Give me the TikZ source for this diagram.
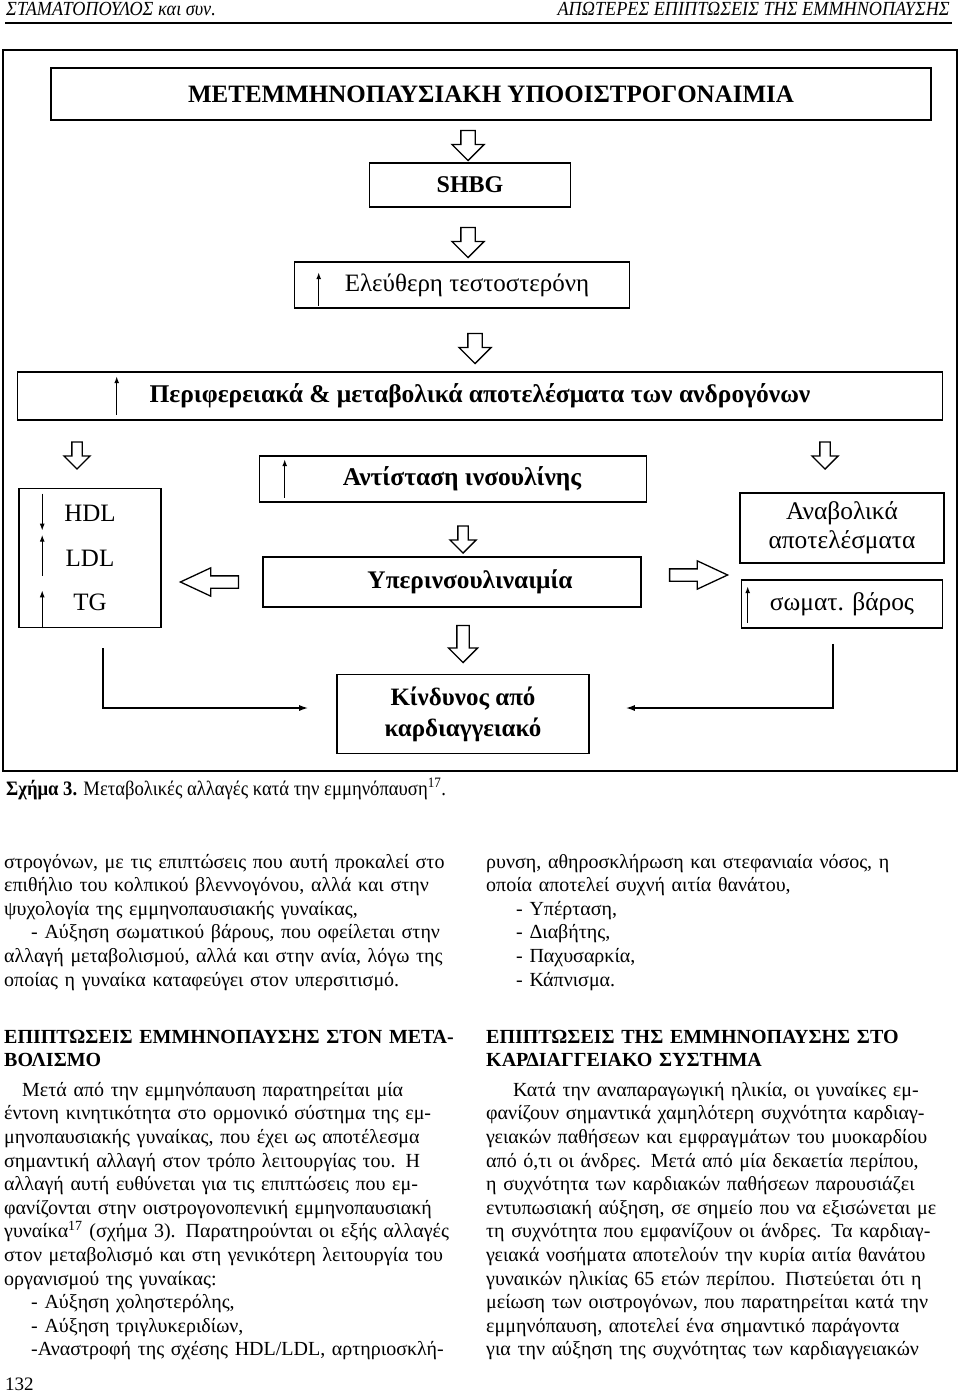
\documentclass[tikz,border=0pt]{standalone}
\usepackage{fontspec}
\setmainfont{Liberation Serif}
\newfontfamily\narrowserif[FakeStretch=0.91]{Liberation Serif}
\usetikzlibrary{arrows.meta,shapes.arrows}
\newcommand{\fullline}[1]{\leavevmode\hbox to\hsize{#1}}

\begin{document}
\begin{tikzpicture}[x=1pt,y=-1pt]
	\tikzstyle{box}=[draw,line width=1.6pt,inner sep=0pt,align=center]
	\tikzstyle{hollow}=[single arrow,draw,line width=1.3pt,fill=white,inner xsep=0pt]
	\tikzstyle{bigdown}=[hollow,rotate=-90,inner ysep=6.5pt,single arrow head extend=9pt,minimum height=30pt]
	\tikzstyle{smalldown}=[hollow,rotate=-90,inner ysep=4.5pt,single arrow head extend=8pt,minimum height=27pt]
	\tikzstyle{longdown}=[hollow,rotate=-90,inner ysep=5.5pt,single arrow head extend=8.5pt,minimum height=37pt]
	\tikzstyle{side}=[hollow,inner ysep=5.5pt,single arrow head extend=8pt,single arrow tip angle=50,minimum height=58pt]
	\tikzstyle{trend}=[line width=1.3pt,-{Latex[length=7pt,width=5pt]}]
	\tikzstyle{link}=[line width=1.5pt,-{Latex[length=9pt,width=6pt]}]
	\tikzstyle{bodytext}=[inner sep=0pt,anchor=base west,text width=466pt,align=left,font=\fontsize{20}{23.6}\selectfont]
	\useasboundingbox (0,0) rectangle (960,1399);

	% running head
	\node[anchor=base west,inner sep=0pt,font=\narrowserif\itshape\fontsize{20}{20}\selectfont] (authors) at (6,15.5) {ΣΤΑΜΑΤΟΠΟΥΛΟΣ και συν.};
	\node[anchor=base east,inner sep=0pt,font=\narrowserif\itshape\fontsize{20}{20}\selectfont] (runhead) at (950,15.5) {ΑΠΩΤΕΡΕΣ ΕΠΙΠΤΩΣΕΙΣ ΤΗΣ ΕΜΜΗΝΟΠΑΥΣΗΣ};
	\draw[line width=1.3pt] (5,23) -- (952,23);

	% figure
	\draw[line width=2.2pt] (3,50) rectangle (957,771);
	\node[box,minimum width=880,minimum height=52,font=\bfseries\fontsize{25}{25}\selectfont] (title) at (491,94) {ΜΕΤΕΜΜΗΝΟΠΑΥΣΙΑΚΗ ΥΠΟΟΙΣΤΡΟΓΟΝΑΙΜΙΑ};
	\node[bigdown] (a1) at (468,142) {};
	\node[box,minimum width=201,minimum height=44,font=\bfseries\fontsize{24}{24}\selectfont] (shbg) at (470,185) {SHBG};
	\node[bigdown] (a2) at (468,239) {};
	\node[box,minimum width=335,minimum height=46,font=\fontsize{25}{25}\selectfont] (free) at (462,285) {\hspace*{10pt}Ελεύθερη τεστοστερόνη};
	\draw[trend] ([shift={(25,-3)}]free.south west) -- ([shift={(25,11)}]free.north west);
	\node[bigdown] (a3) at (475,345) {};
	\node[box,minimum width=925,minimum height=48,font=\bfseries\fontsize{25.5}{25.5}\selectfont] (periph) at (480,396) {Περιφερειακά \& μεταβολικά αποτελέσματα των ανδρογόνων};
	\draw[trend] ([shift={(100,-6)}]periph.south west) -- ([shift={(100,5)}]periph.north west);
	\node[smalldown] (a4) at (77,453) {};
	\node[smalldown] (a5) at (825,453) {};

	\node[box,minimum width=142,minimum height=139,font=\fontsize{25}{44.5}\selectfont] (lipid) at (90,558) {HDL\\LDL\\TG};
	\draw[trend] ([shift={(24,6)}]lipid.north west) -- ++(0,37);
	\draw[trend] ([shift={(24,88)}]lipid.north west) -- ++(0,-41);
	\draw[trend] ([shift={(24,0)}]lipid.south west) -- ++(0,-38);

	\node[box,minimum width=387,minimum height=46,font=\bfseries\fontsize{25.5}{25.5}\selectfont] (insulin) at (453,479) {\hspace*{18pt}Αντίσταση ινσουλίνης};
	\draw[trend] ([shift={(26,-5)}]insulin.south west) -- ([shift={(26,4)}]insulin.north west);
	\node[smalldown] (a6) at (463,537) {};
	\node[box,minimum width=378,minimum height=50,font=\bfseries\fontsize{25.3}{25.3}\selectfont] (hyper) at (452,582) {\hspace*{36pt}Υπερινσουλιναιμία};
	\node[side,rotate=180] (a7) at (216,582) {};
	\node[side] (a8) at (692,575) {};

	\node[box,minimum width=204,minimum height=70,font=\fontsize{25.4}{29}\selectfont] (anab) at (842,528) {Αναβολικά\\αποτελέσματα};
	\node[box,minimum width=201,minimum height=48,font=\fontsize{25.4}{25.4}\selectfont] (weight) at (842,604) {σωματ. βάρος};
	\draw[trend] ([shift={(7,-6)}]weight.south west) -- ([shift={(7,7)}]weight.north west);

	\node[longdown] (a9) at (463,641) {};
	\node[box,minimum width=252,minimum height=79,font=\bfseries\fontsize{25}{31}\selectfont] (risk) at (463,714) {Κίνδυνος από\\καρδιαγγειακό};
	\coordinate (lfoot) at ([shift={(13,20)}]lipid.south);
	\coordinate (rfoot) at ([shift={(-9,15)}]weight.south);
	\draw[link] (lfoot) |- ([shift={(-28,-6)}]risk.west);
	\draw[link] (rfoot) |- ([shift={(36,-6)}]risk.east);

	\node[anchor=base west,inner sep=0pt,font=\narrowserif\fontsize{20.5}{20.5}\selectfont] (caption) at (6,795) {\textbf{Σχήμα 3.} Μεταβολικές αλλαγές κατά την εμμηνόπαυση\textsuperscript{17}.};

	% text columns
	\node[bodytext] (left1) at (4,868) {%
		\fullline{στρογόνων, με τις επιπτώσεις που αυτή προκαλεί στο}\\
		\fullline{επιθήλιο του κολπικού βλεννογόνου, αλλά και στην}\\
		ψυχολογία της εμμηνοπαυσιακής γυναίκας,\\
		\fullline{\hspace*{27pt}- Αύξηση σωματικού βάρους, που οφείλεται στην}\\
		\fullline{αλλαγή μεταβολισμού, αλλά και στην ανία, λόγω της}\\
		οποίας η γυναίκα καταφεύγει στον υπερσιτισμό.};
	\node[bodytext] (left2) at (4,1043) {%
		{\bfseries\fullline{ΕΠΙΠΤΩΣΕΙΣ ΕΜΜΗΝΟΠΑΥΣΗΣ ΣΤΟΝ ΜΕΤΑ-}\\
		ΒΟΛΙΣΜΟ}\\[6pt]
		\fullline{\hspace*{18pt}Μετά από την εμμηνόπαυση παρατηρείται μία}\\
		\fullline{έντονη κινητικότητα στο ορμονικό σύστημα της εμ-}\\
		\fullline{μηνοπαυσιακής γυναίκας, που έχει ως αποτέλεσμα}\\
		\fullline{σημαντική αλλαγή στον τρόπο λειτουργίας του. Η}\\
		\fullline{αλλαγή αυτή ευθύνεται για τις επιπτώσεις που εμ-}\\
		\fullline{φανίζονται στην οιστρογονοπενική εμμηνοπαυσιακή}\\
		\fullline{γυναίκα\textsuperscript{17} (σχήμα 3). Παρατηρούνται οι εξής αλλαγές}\\
		\fullline{στον μεταβολισμό και στη γενικότερη λειτουργία του}\\
		οργανισμού της γυναίκας:\\
		\hspace*{27pt}- Αύξηση χοληστερόλης,\\
		\hspace*{27pt}- Αύξηση τριγλυκεριδίων,\\
		\fullline{\hspace*{27pt}-Αναστροφή της σχέσης HDL/LDL, αρτηριοσκλή-}};
	\node[bodytext,text width=470pt] (right1) at (486,868) {%
		\fullline{ρυνση, αθηροσκλήρωση και στεφανιαία νόσος, η}\\
		οποία αποτελεί συχνή αιτία θανάτου,\\
		\hspace*{30pt}- Υπέρταση,\\
		\hspace*{30pt}- Διαβήτης,\\
		\hspace*{30pt}- Παχυσαρκία,\\
		\hspace*{30pt}- Κάπνισμα.};
	\node[bodytext,text width=470pt] (right2) at (486,1043) {%
		{\bfseries\fullline{ΕΠΙΠΤΩΣΕΙΣ ΤΗΣ ΕΜΜΗΝΟΠΑΥΣΗΣ ΣΤΟ}\\
		ΚΑΡΔΙΑΓΓΕΙΑΚΟ ΣΥΣΤΗΜΑ}\\[6pt]
		\fullline{\hspace*{27pt}Κατά την αναπαραγωγική ηλικία, οι γυναίκες εμ-}\\
		\fullline{φανίζουν σημαντικά χαμηλότερη συχνότητα καρδιαγ-}\\
		\fullline{γειακών παθήσεων και εμφραγμάτων του μυοκαρδίου}\\
		\fullline{από ό,τι οι άνδρες. Μετά από μία δεκαετία περίπου,}\\
		\fullline{η συχνότητα των καρδιακών παθήσεων παρουσιάζει}\\
		\fullline{εντυπωσιακή αύξηση, σε σημείο που να εξισώνεται με}\\
		\fullline{τη συχνότητα που εμφανίζουν οι άνδρες. Τα καρδιαγ-}\\
		\fullline{γειακά νοσήματα αποτελούν την κυρία αιτία θανάτου}\\
		\fullline{γυναικών ηλικίας 65 ετών περίπου. Πιστεύεται ότι η}\\
		\fullline{μείωση των οιστρογόνων, που παρατηρείται κατά την}\\
		\fullline{εμμηνόπαυση, αποτελεί ένα σημαντικό παράγοντα}\\
		\fullline{για την αύξηση της συχνότητας των καρδιαγγειακών}};
	\node[anchor=base west,inner sep=0pt,font=\fontsize{19}{19}\selectfont] (folio) at (5,1390) {132};
\end{tikzpicture}
\end{document}
